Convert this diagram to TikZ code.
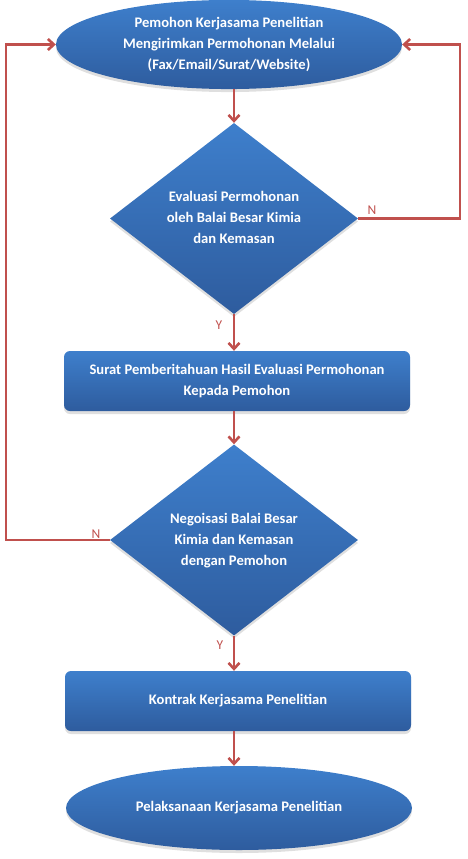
\documentclass[tikz,border=0pt]{standalone}
\usepackage{fontspec}
\setmainfont{Carlito}
\usetikzlibrary{shapes.geometric,arrows.meta,shadows}
\definecolor{bluetop}{RGB}{62,127,204}
\definecolor{bluebot}{RGB}{46,92,158}
\definecolor{linered}{RGB}{192,80,77}
\newcommand{\lowtext}[2]{\raisebox{#1}{\begin{tabular}{@{}c@{}}#2\end{tabular}}}
\begin{document}
\begin{tikzpicture}[x=1pt,y=-1pt,
  shp/.style={top color=bluetop,bottom color=bluebot,text=white,
    font=\bfseries\fontsize{14.6}{21}\selectfont,align=center,inner sep=0pt,
    drop shadow={shadow xshift=0pt,shadow yshift=-3pt,opacity=0.25}},
  oval/.style={shp,ellipse,minimum width=346pt,minimum height=84pt},
  dia/.style={shp,diamond,aspect=1.3,minimum width=248pt,minimum height=191pt},
  rbox/.style={shp,rectangle,rounded corners=6pt,minimum width=346pt,minimum height=60pt},
  flow/.style={draw=linered,line width=2.6pt,-{Straight Barb[length=6pt,width=11pt]}},
  lab/.style={text=linered,font=\fontsize{13.5}{15}\selectfont,inner sep=0pt}]
\useasboundingbox (0,0) rectangle (467,859);
\node[oval] (e1) at (229,44.5) {\lowtext{-2pt}{Pemohon Kerjasama Penelitian\\Mengirimkan Permohonan Melalui\\(Fax/Email/Surat/Website)}};
\node[dia] (d1) at (234,218.5) {\lowtext{-5pt}{Evaluasi Permohonan\\oleh Balai Besar Kimia\\dan Kemasan}};
\node[rbox] (r1) at (237,381) {\lowtext{-2pt}{Surat Pemberitahuan Hasil Evaluasi Permohonan\\Kepada Pemohon}};
\node[dia] (d2) at (234,540) {\lowtext{-2pt}{Negoisasi Balai Besar\\Kimia dan Kemasan\\dengan Pemohon}};
\node[rbox] (r2) at (238,701) {Kontrak Kerjasama Penelitian};
\node[oval] (e2) at (239,808) {Pelaksanaan Kerjasama Penelitian};
\coordinate (rx) at (460,0);
\coordinate (lx) at (6,0);
\draw[flow] (d1.north |- e1.south) -- (d1.north);
\draw[flow] (d1.south) -- (d1.south |- r1.north);
\draw[flow] (d2.north |- r1.south) -- (d2.north);
\draw[flow] (d2.south) -- (d2.south |- r2.north);
\draw[flow] (d2.south |- r2.south) -- (d2.south |- e2.north);
\draw[flow] (d1.east) -- (d1.east -| rx) |- (e1.east);
\draw[flow] (d2.west) -- (d2.west -| lx) |- (e1.west);
\node[lab] (n1) at (372,210) {N};
\node[lab] (y1) at (219,325) {Y};
\node[lab] (n2) at (96,534) {N};
\node[lab] (y2) at (220,645) {Y};
\end{tikzpicture}
\end{document}
